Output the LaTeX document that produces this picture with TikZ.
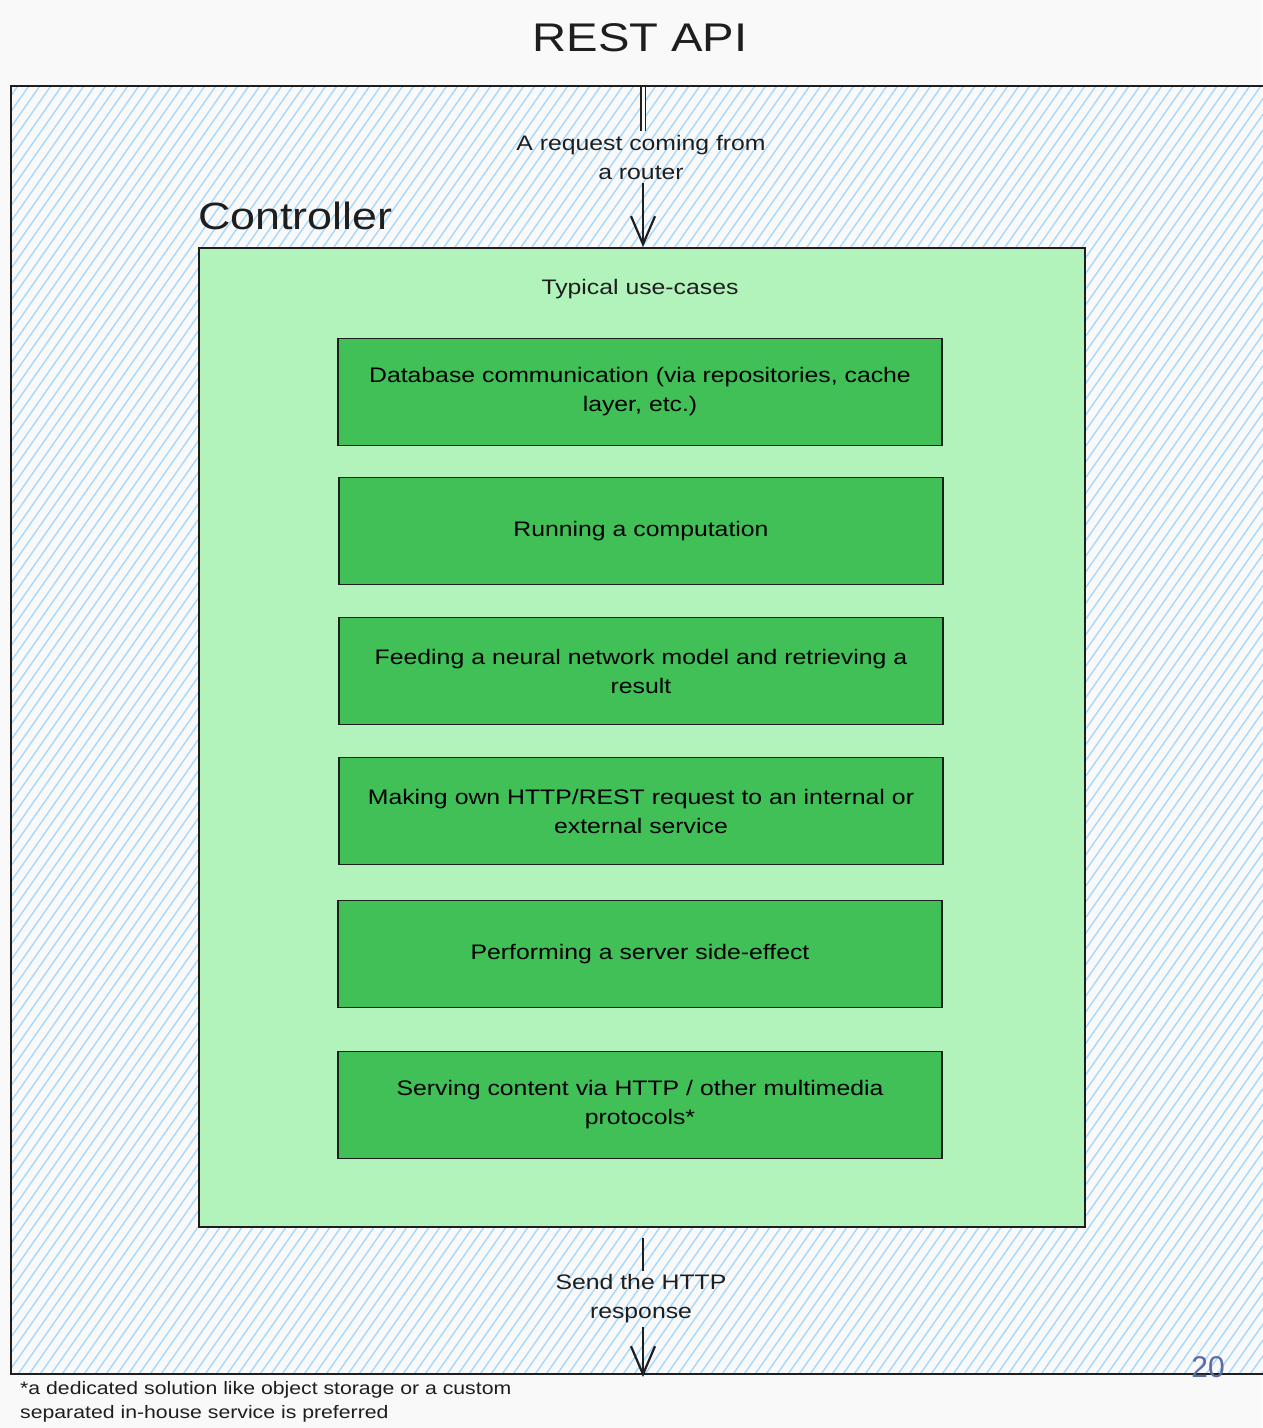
\documentclass[tikz,border=0pt]{standalone}
\usepackage{fontspec}
\setmainfont[FakeStretch=1.18]{Liberation Sans}
\newfontfamily\plainsans{Liberation Sans}
\usetikzlibrary{arrows.meta}
\definecolor{paper}{HTML}{F9F9F9}
\definecolor{hatch}{HTML}{A5D8FF}
\definecolor{ctrlfill}{HTML}{B2F2BB}
\definecolor{casefill}{HTML}{40C057}
\definecolor{ink}{HTML}{1E1E1E}
\definecolor{pagenum}{HTML}{5C6BA3}
\tikzset{
  frame/.style={draw=ink, line width=2.8pt},
  ctrlbox/.style={draw=ink, line width=1.8pt, fill=ctrlfill},
  casebox/.style={draw=ink, line width=1.8pt, fill=casefill, minimum width=604pt,
    minimum height=107pt, align=center, text width=592pt, inner sep=4pt,
    font=\fontsize{21}{29}\selectfont},
  label/.style={align=center, font=\fontsize{21}{29}\selectfont, text=ink},
  flow/.style={draw=ink, line width=2.2pt, -{Straight Barb[length=28pt,width=24pt,line width=2.2pt]}},
}
\begin{document}
\begin{tikzpicture}[x=1pt,y=-1pt]
  \useasboundingbox (0,0) rectangle (1262,1428);
  \fill[paper] (0,0) rectangle (1262,1428);

  % title
  \node[font=\fontsize{40}{44}\selectfont, text=ink] (title) at (640,38) {REST API};

  % API frame with diagonal hatching
  \begin{scope}
    \clip (11,86) rectangle (1275,1374);
    \foreach \t in {-910,-899,...,1270}
      \draw[hatch, line width=1.4pt] (\t,1380) -- ++(910,-1300);
  \end{scope}
  \draw[frame] (11,86) rectangle (1275,1374);
  \coordinate (apitop) at (643,87);
  \coordinate (apibottom) at (643,1377);

  % controller
  \node[font=\fontsize{38}{42}\selectfont, text=ink, anchor=west, inner sep=0pt] (ctrltitle) at (198,216) {Controller};
  \node[ctrlbox, minimum width=886pt, minimum height=979pt, anchor=north west, inner sep=0pt]
    (ctrl) at (198,247) {};
  \node[label] (usecases) at (640,289) {Typical use-cases};

  \node[casebox] (c1) at (640,392) {Database communication (via repositories, cache\\layer, etc.)};
  \node[casebox] (c2) at (641,531) {Running a computation};
  \node[casebox] (c3) at (641,671) {Feeding a neural network model and retrieving a\\result};
  \node[casebox] (c4) at (641,811) {Making own HTTP/REST request to an internal or\\external service};
  \node[casebox] (c5) at (640,954) {Performing a server side-effect};
  \node[casebox] (c6) at (640,1105) {Serving content via HTTP / other multimedia\\protocols*};

  % incoming request
  \node[label] (req) at (641,157) {A request coming from\\a router};
  \draw[ink, line width=1.3pt, double=paper, double distance=3pt] (apitop) -- (req.north -| apitop);
  \draw[flow] (req.south -| apitop) -- (ctrl.north -| apitop);

  % outgoing response
  \node[label] (resp) at (641,1299) {Send the HTTP\\response};
  \draw[ink, line width=2.6pt] (ctrl.south -| apitop) ++(0,10) -- (resp.north -| apitop);
  \draw[flow] (resp.south -| apitop) -- (apibottom);

  % footnote and page number
  \node[anchor=north west, align=left, font=\fontsize{18}{24}\selectfont, text=ink, inner sep=0pt]
    (note) at (20,1381) {*a dedicated solution like object storage or a custom\\separated in-house service is preferred};
  \node[font=\plainsans\fontsize{30}{32}\selectfont, text=pagenum] (page) at (1208,1367) {20};
\end{tikzpicture}
\end{document}
